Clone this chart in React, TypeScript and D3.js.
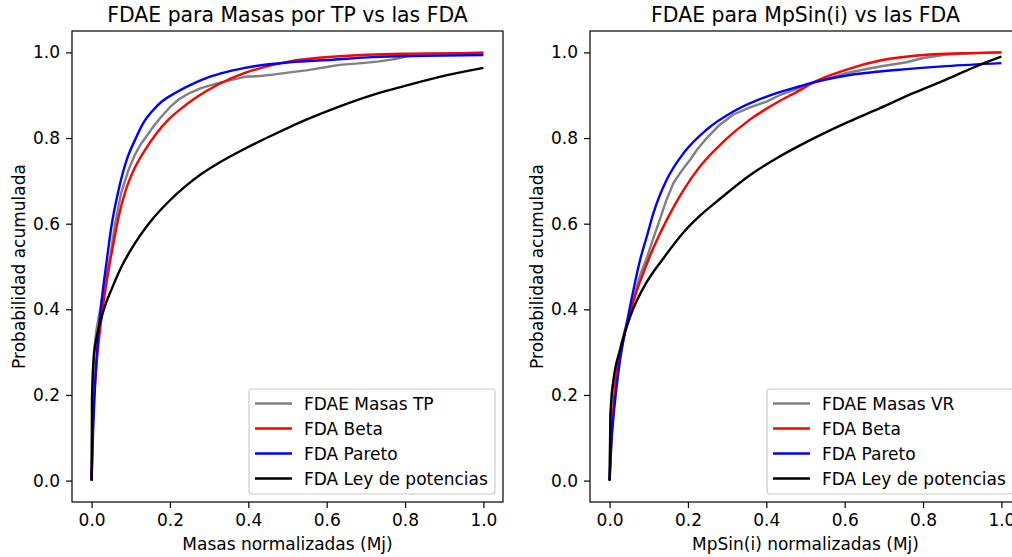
import React, { useEffect, useRef } from 'react';
import * as d3 from 'd3';

// tick values shared by both panels
const tickValues = [0, 0.2, 0.4, 0.6, 0.8, 1.0];

// ---- left panel: masses by transit (TP)
const tpTitle = 'FDAE para Masas por TP vs las FDA';
const tpXLabel = 'Masas normalizadas (Mj)';
const tpLegend = ['FDAE Masas TP', 'FDA Beta', 'FDA Pareto', 'FDA Ley de potencias'];

const tpEmpX = [0, 0.003, 0.006, 0.012, 0.022, 0.035, 0.048, 0.06, 0.075, 0.094, 0.11, 0.125, 0.137, 0.16, 0.179, 0.2, 0.222, 0.25, 0.281, 0.33, 0.391, 0.43, 0.463, 0.51, 0.548, 0.6, 0.633, 0.69, 0.735, 0.778, 0.803, 0.854, 0.92, 1.0];
const tpEmpY = [0, 0.2, 0.3, 0.35, 0.4, 0.47, 0.525, 0.6, 0.67, 0.725, 0.76, 0.785, 0.8, 0.83, 0.851, 0.872, 0.89, 0.905, 0.917, 0.93, 0.943, 0.945, 0.948, 0.954, 0.958, 0.966, 0.971, 0.975, 0.979, 0.985, 0.991, 0.994, 0.997, 1.0];

const tpBetaX = [0, 0.003, 0.01, 0.02, 0.031, 0.045, 0.058, 0.07, 0.086, 0.11, 0.137, 0.165, 0.196, 0.23, 0.264, 0.323, 0.391, 0.45, 0.506, 0.633, 0.8, 1.0];
const tpBetaY = [0, 0.12, 0.24, 0.34, 0.42, 0.5, 0.565, 0.62, 0.675, 0.73, 0.773, 0.81, 0.843, 0.87, 0.893, 0.925, 0.952, 0.968, 0.979, 0.991, 0.997, 0.999];

const tpParetoX = [0, 0.004, 0.009, 0.018, 0.026, 0.039, 0.05, 0.069, 0.09, 0.111, 0.13, 0.154, 0.18, 0.213, 0.25, 0.281, 0.33, 0.391, 0.506, 0.615, 0.718, 0.85, 1.0];
const tpParetoY = [0, 0.12, 0.228, 0.35, 0.423, 0.516, 0.59, 0.679, 0.75, 0.796, 0.832, 0.862, 0.886, 0.905, 0.923, 0.936, 0.951, 0.964, 0.977, 0.983, 0.989, 0.992, 0.994];

const tpPowerX = [0, 0.001, 0.005, 0.012, 0.022, 0.035, 0.052, 0.075, 0.099, 0.125, 0.154, 0.195, 0.239, 0.28, 0.323, 0.391, 0.46, 0.548, 0.63, 0.718, 0.8, 0.888, 1.0];
const tpPowerY = [0, 0.19, 0.28, 0.33, 0.37, 0.41, 0.449, 0.497, 0.537, 0.574, 0.609, 0.65, 0.687, 0.716, 0.741, 0.775, 0.806, 0.843, 0.873, 0.901, 0.922, 0.943, 0.964];

// ---- right panel: minimum masses by radial velocity (VR)
const vrTitle = 'FDAE para MpSin(i) vs las FDA';
const vrXLabel = 'MpSin(i) normalizadas (Mj)';
const vrLegend = ['FDAE Masas VR', 'FDA Beta', 'FDA Pareto', 'FDA Ley de potencias'];

const vrEmpX = [0, 0.003, 0.006, 0.012, 0.02, 0.03, 0.04, 0.05, 0.06, 0.07, 0.08, 0.095, 0.104, 0.115, 0.129, 0.145, 0.163, 0.185, 0.206, 0.225, 0.248, 0.28, 0.316, 0.36, 0.401, 0.434, 0.486, 0.52, 0.56, 0.605, 0.65, 0.69, 0.758, 0.8, 0.86, 0.93, 1.0];
const vrEmpY = [0, 0.15, 0.212, 0.24, 0.28, 0.32, 0.355, 0.39, 0.425, 0.455, 0.485, 0.52, 0.545, 0.575, 0.612, 0.655, 0.695, 0.725, 0.75, 0.775, 0.8, 0.83, 0.855, 0.872, 0.885, 0.9, 0.918, 0.929, 0.94, 0.952, 0.96, 0.967, 0.977, 0.987, 0.995, 0.998, 1.0];

const vrBetaX = [0, 0.005, 0.015, 0.027, 0.04, 0.055, 0.07, 0.087, 0.104, 0.125, 0.146, 0.189, 0.231, 0.291, 0.358, 0.427, 0.486, 0.52, 0.605, 0.69, 0.817, 0.9, 1.0];
const vrBetaY = [0, 0.1, 0.228, 0.295, 0.35, 0.4, 0.445, 0.487, 0.527, 0.57, 0.609, 0.679, 0.734, 0.792, 0.843, 0.883, 0.912, 0.93, 0.96, 0.981, 0.995, 0.998, 1.0];

const vrParetoX = [0, 0.004, 0.01, 0.018, 0.027, 0.044, 0.061, 0.078, 0.095, 0.112, 0.146, 0.189, 0.248, 0.316, 0.401, 0.486, 0.52, 0.605, 0.732, 0.86, 1.0];
const vrParetoY = [0, 0.08, 0.15, 0.22, 0.283, 0.368, 0.446, 0.516, 0.57, 0.625, 0.703, 0.765, 0.82, 0.862, 0.897, 0.921, 0.93, 0.946, 0.959, 0.968, 0.975];

const vrPowerX = [0, 0.002, 0.009, 0.027, 0.053, 0.095, 0.138, 0.189, 0.23, 0.274, 0.358, 0.434, 0.486, 0.605, 0.69, 0.775, 0.86, 0.945, 1.0];
const vrPowerY = [0, 0.15, 0.228, 0.306, 0.384, 0.464, 0.52, 0.58, 0.618, 0.652, 0.713, 0.757, 0.783, 0.836, 0.87, 0.905, 0.937, 0.971, 0.99];

const colors = ['#808080', '#ff0000', '#0000ff', '#000000'];

const W = 1012;
const H = 557;
const FONT = '"DejaVu Sans", sans-serif';

type Panel = {
  x0: number;
  title: string;
  xLabel: string;
  legend: string[];
  series: [number[], number[]][];
};

const panels: Panel[] = [
  {
    x0: 72,
    title: tpTitle,
    xLabel: tpXLabel,
    legend: tpLegend,
    series: [[tpEmpX, tpEmpY], [tpBetaX, tpBetaY], [tpParetoX, tpParetoY], [tpPowerX, tpPowerY]],
  },
  {
    x0: 590,
    title: vrTitle,
    xLabel: vrXLabel,
    legend: vrLegend,
    series: [[vrEmpX, vrEmpY], [vrBetaX, vrBetaY], [vrParetoX, vrParetoY], [vrPowerX, vrPowerY]],
  },
];

const App: React.FC = () => {
  const svgRef = useRef<SVGSVGElement | null>(null);

  useEffect(() => {
    if (!svgRef.current) return;
    const svg = d3.select(svgRef.current);
    svg.selectAll('*').remove();

    const top = 31;
    const bottom = 502;
    const axW = 431;

    panels.forEach(p => {
      const x = d3.scaleLinear().domain([-0.05, 1.05]).range([p.x0, p.x0 + axW]);
      const y = d3.scaleLinear().domain([-0.05, 1.05]).range([bottom, top]);
      const g = svg.append('g');

      // curves (plotted in order: empirical, beta, pareto, power law)
      p.series.forEach(([xs, ys], i) => {
        const pts = xs.map((v, k) => [v, ys[k]] as [number, number]);
        const line = d3.line<[number, number]>()
          .x(d => x(d[0]))
          .y(d => y(d[1]))
          .curve(i === 0 ? d3.curveLinear : d3.curveMonotoneX);
        g.append('path')
          .attr('d', line(pts))
          .attr('fill', 'none')
          .attr('stroke', colors[i])
          .attr('stroke-width', 2.4)
          .attr('stroke-linejoin', 'round');
      });

      // axes
      const xAxis = g.append('g')
        .attr('transform', `translate(0,${bottom})`)
        .call(d3.axisBottom(x).tickValues(tickValues).tickFormat(d3.format('.1f')).tickSizeOuter(0).tickSize(6).tickPadding(6));
      const yAxis = g.append('g')
        .attr('transform', `translate(${p.x0},0)`)
        .call(d3.axisLeft(y).tickValues(tickValues).tickFormat(d3.format('.1f')).tickSizeOuter(0).tickSize(6).tickPadding(6));
      [xAxis, yAxis].forEach(a => {
        a.select('.domain').remove();
        a.selectAll('line').attr('stroke', '#000').attr('stroke-width', 1.2);
        a.selectAll('text').attr('font-family', FONT).attr('font-size', 17).attr('fill', '#000');
      });

      // frame
      g.append('rect')
        .attr('x', p.x0)
        .attr('y', top)
        .attr('width', axW)
        .attr('height', bottom - top)
        .attr('fill', 'none')
        .attr('stroke', '#000')
        .attr('stroke-width', 1.2);

      // legend
      const lgW = 246;
      const lgX = p.x0 + axW - 8 - lgW;
      const lgY = 389;
      const lg = g.append('g');
      lg.append('rect')
        .attr('x', lgX)
        .attr('y', lgY)
        .attr('width', lgW)
        .attr('height', 105)
        .attr('rx', 3)
        .attr('fill', '#fff')
        .attr('fill-opacity', 0.8)
        .attr('stroke', '#cccccc')
        .attr('stroke-width', 1.2);
      p.legend.forEach((label, i) => {
        const cy = lgY + 14.5 + i * 25;
        lg.append('line')
          .attr('x1', lgX + 6)
          .attr('x2', lgX + 43)
          .attr('y1', cy)
          .attr('y2', cy)
          .attr('stroke', colors[i])
          .attr('stroke-width', 2.4);
        lg.append('text')
          .attr('x', lgX + 55)
          .attr('y', cy)
          .attr('dy', '0.36em')
          .attr('font-family', FONT)
          .attr('font-size', 17)
          .text(label);
      });

      const cx = p.x0 + axW / 2;
      g.append('text')
        .attr('x', cx)
        .attr('y', 22)
        .attr('text-anchor', 'middle')
        .attr('font-family', FONT)
        .attr('font-size', 20.4)
        .text(p.title);
      g.append('text')
        .attr('x', cx)
        .attr('y', 550)
        .attr('text-anchor', 'middle')
        .attr('font-family', FONT)
        .attr('font-size', 17)
        .text(p.xLabel);
      g.append('text')
        .attr('transform', `translate(${p.x0 - 47},${(top + bottom) / 2}) rotate(-90)`)
        .attr('text-anchor', 'middle')
        .attr('font-family', FONT)
        .attr('font-size', 17)
        .text('Probabilidad acumulada');
    });
  }, []);

  return (
    <svg
      ref={svgRef}
      width={W}
      height={H}
      style={{ position: 'absolute', left: 0, top: 0, background: '#fff' }}
    />
  );
};

export default App;
